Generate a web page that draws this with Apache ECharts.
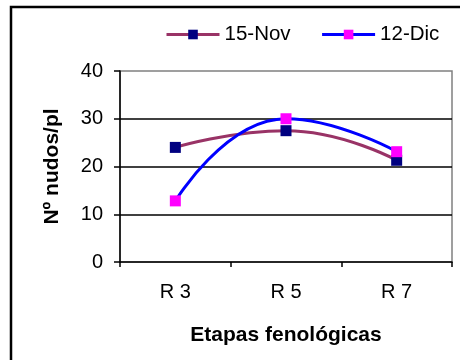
<!DOCTYPE html>
<html>
<head>
<meta charset="utf-8">
<script src="https://cdn.jsdelivr.net/npm/echarts@6/dist/echarts.min.js"></script>
<style>
  html, body { margin: 0; padding: 0; background: #fff; }
  #chart { width: 460px; height: 360px; }
</style>
</head>
<body>
<div id="chart"></div>
<script>
// Phenological stages and number of nodes per plant for each sowing date
const stages = ['R 3', 'R 5', 'R 7'];
const nov15 = [24.0, 27.5, 21.3];
const dic12 = [12.8, 30.0, 23.1];
const yTicks = [0, 10, 20, 30, 40];

const FONT = '"Liberation Sans", Arial, sans-serif';

const chart = echarts.init(document.getElementById('chart'), null, { renderer: 'canvas' });

chart.setOption({
  backgroundColor: '#ffffff',
  animation: false,
  graphic: [{
    type: 'rect',
    shape: { x: 11, y: 7, width: 470, height: 380 },
    style: { fill: 'none', stroke: '#000', lineWidth: 2.5 },
    silent: true,
    z: -1
  }],
  legend: {
    left: 165,
    top: 24,
    padding: 0,
    itemWidth: 53,
    itemHeight: 12,
    itemGap: 30,
    lineStyle: { width: 3 },
    textStyle: { fontFamily: FONT, fontSize: 20.5, color: '#000' },
    data: ['15-Nov', '12-Dic']
  },
  grid: {
    left: 120, top: 71, right: 8, bottom: 98,
    show: true,
    borderColor: '#808080',
    borderWidth: 1.5,
    backgroundColor: 'transparent'
  },
  xAxis: {
    type: 'category',
    data: stages,
    boundaryGap: true,
    name: 'Etapas fenológicas',
    nameLocation: 'middle',
    nameGap: 63,
    nameTextStyle: { fontFamily: FONT, fontSize: 21, fontWeight: 'bold', color: '#000' },
    axisLine: { lineStyle: { color: '#000', width: 1.5 } },
    axisTick: { show: true, length: 5, inside: false, lineStyle: { color: '#000', width: 1.5 } },
    axisLabel: { fontFamily: FONT, fontSize: 20, color: '#000', margin: 20 }
  },
  yAxis: {
    type: 'value',
    min: yTicks[0],
    max: yTicks[yTicks.length - 1],
    interval: 10,
    name: 'Nº nudos/pl',
    nameLocation: 'middle',
    nameGap: 57,
    nameTextStyle: { fontFamily: FONT, fontSize: 21, fontWeight: 'bold', color: '#000' },
    axisLine: { show: true, lineStyle: { color: '#000', width: 1.5 } },
    axisTick: { show: true, length: 6, lineStyle: { color: '#000', width: 1.5 } },
    axisLabel: { fontFamily: FONT, fontSize: 20, color: '#000', margin: 17 },
    splitLine: {
      show: true,
      showMinLine: false,
      showMaxLine: false,
      lineStyle: { color: '#000', width: 1.5 }
    }
  },
  series: [
    {
      name: '15-Nov',
      type: 'line',
      data: nov15,
      smooth: 0.5,
      symbol: 'rect',
      symbolSize: 11,
      lineStyle: { color: '#993366', width: 3 },
      itemStyle: { color: '#000080', borderWidth: 0 },
      z: 2
    },
    {
      name: '12-Dic',
      type: 'line',
      data: dic12,
      smooth: 0.5,
      symbol: 'rect',
      symbolSize: 11,
      lineStyle: { color: '#0000ff', width: 3 },
      itemStyle: { color: '#ff00ff', borderWidth: 0 },
      z: 3
    }
  ]
});
</script>
</body>
</html>
